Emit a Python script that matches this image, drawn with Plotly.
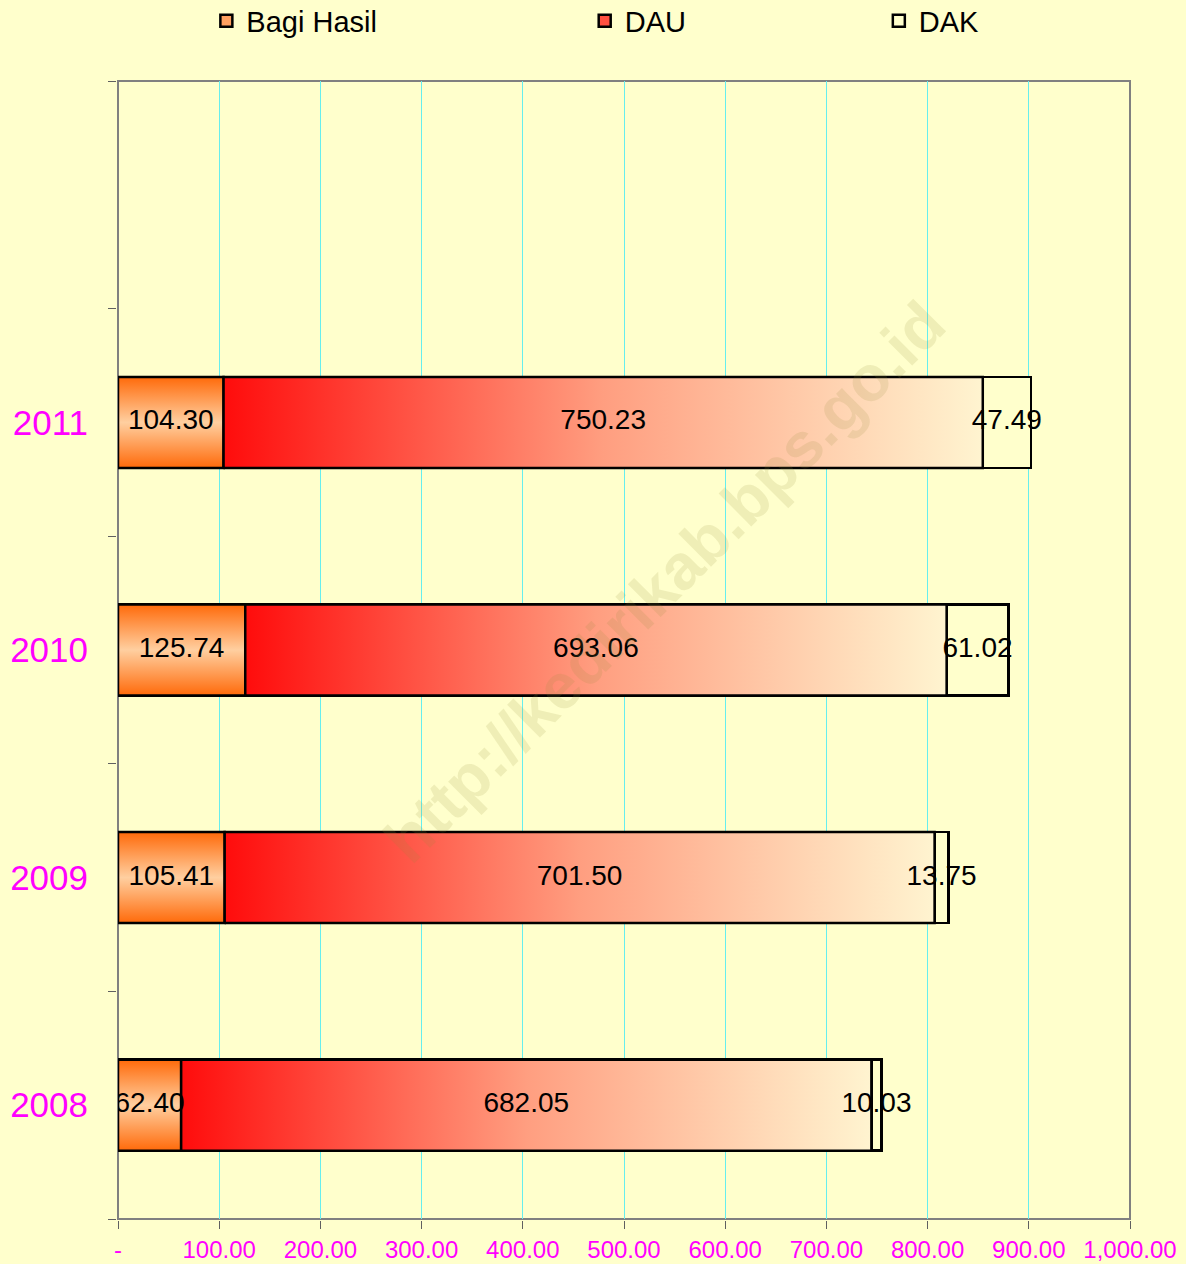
import plotly.graph_objects as go

years = ["2008", "2009", "2010", "2011"]
bagi_hasil = [62.40, 105.41, 125.74, 104.30]
dau = [682.05, 701.50, 693.06, 750.23]
dak = [10.03, 13.75, 61.02, 47.49]
x_ticks = [0, 100, 200, 300, 400, 500, 600, 700, 800, 900, 1000]
x_ticktext = ["-", "100.00", "200.00", "300.00", "400.00", "500.00",
              "600.00", "700.00", "800.00", "900.00", "1,000.00"]

BG = "#FFFFCC"
MAG = "#FF00FF"
bar_w = 0.4
pos = list(range(len(years)))

fig = go.Figure()

# stacked bars (solid fills carry the legend, gradients are laid over them)
series = [("Bagi Hasil", bagi_hasil, "#FFA060", "legend"),
          ("DAU", dau, "#FF5040", "legend2"),
          ("DAK", dak, BG, "legend3")]
for name, vals, col, lg in series:
    fig.add_trace(go.Bar(x=vals, y=pos, orientation="h", name=name, width=bar_w,
                         marker=dict(color=col, line=dict(color="black", width=2.5)),
                         legend=lg, zorder=0))

# gradient overlays
starts_bh = [0] * len(years)
starts_dau = [b for b in bagi_hasil]
for i in pos:
    for x0, w, grad in [
        (starts_bh[i], bagi_hasil[i],
         dict(type="vertical", colorscale=[[0, "#FF6A0A"], [0.5, "#FFCFA0"], [1, "#FF6A0A"]])),
        (starts_dau[i], dau[i],
         dict(type="horizontal", colorscale=[[0, "#FF0C0C"], [0.5, "#FF9E80"], [1, "#FFF4D0"]])),
    ]:
        x1 = x0 + w
        y0, y1 = i - bar_w / 2, i + bar_w / 2
        fig.add_trace(go.Scatter(x=[x0, x1, x1, x0, x0], y=[y0, y0, y1, y1, y0],
                                 mode="lines", fill="toself", fillgradient=grad,
                                 line=dict(color="black", width=2.5),
                                 showlegend=False, hoverinfo="skip", zorder=1))

# value labels centred in each segment
lab_x, lab_y, lab_t = [], [], []
for i in pos:
    c = 0
    for vals in (bagi_hasil, dau, dak):
        lab_x.append(c + vals[i] / 2)
        lab_y.append(i)
        lab_t.append(f"{vals[i]:.2f}")
        c += vals[i]
fig.add_trace(go.Scatter(x=lab_x, y=lab_y, text=lab_t, mode="text",
                         textfont=dict(family="Arial", size=28, color="black"),
                         showlegend=False, hoverinfo="skip", zorder=2))

# watermark
fig.add_annotation(text="<b>http://kedirikab.bps.go.id</b>", x=0.54, y=0.56,
                   xref="paper", yref="paper", showarrow=False, textangle=-45,
                   font=dict(family="Arial", size=64, color="rgba(150,140,60,0.15)"))

# gray frame on top/right
fig.add_shape(type="rect", xref="paper", yref="paper", x0=0, y0=0, x1=1, y1=1,
              line=dict(color="#808080", width=2), layer="below")

leg = dict(orientation="h", xref="container", yref="container", y=1 - 21 / 1264,
           xanchor="left", yanchor="middle", font=dict(size=29), bgcolor="rgba(0,0,0,0)")

fig.update_layout(
    width=1186, height=1264,
    margin=dict(l=118, r=56, t=81, b=45),
    paper_bgcolor=BG, plot_bgcolor=BG,
    barmode="stack",
    font=dict(family="Arial", color="black"),
    legend=dict(leg, x=0.174),
    legend2=dict(leg, x=0.493),
    legend3=dict(leg, x=0.741),
    xaxis=dict(range=[0, 1000], tickvals=x_ticks, ticktext=x_ticktext,
               tickfont=dict(family="Arial", size=24, color=MAG),
               showgrid=True, gridcolor="#66EEEE", gridwidth=1,
               ticks="outside", ticklen=8, tickcolor="#606060",
               showline=True, linecolor="black", linewidth=2, zeroline=False,
               automargin=False),
    yaxis=dict(range=[-0.5, 4.5], tickvals=pos, ticktext=years,
               tickfont=dict(family="Arial", size=35, color=MAG),
               ticks="", ticklabelstandoff=21, showgrid=False, zeroline=False,
               showline=True, linecolor="black", linewidth=2, automargin=False,
               minor=dict(tickvals=[p - 0.5 for p in range(len(years) + 2)],
                          ticks="outside", ticklen=8, tickcolor="#606060", showgrid=False)),
)

fig.write_html("out.html", config={"displayModeBar": False},
               post_script="document.body.style.margin='0';")
